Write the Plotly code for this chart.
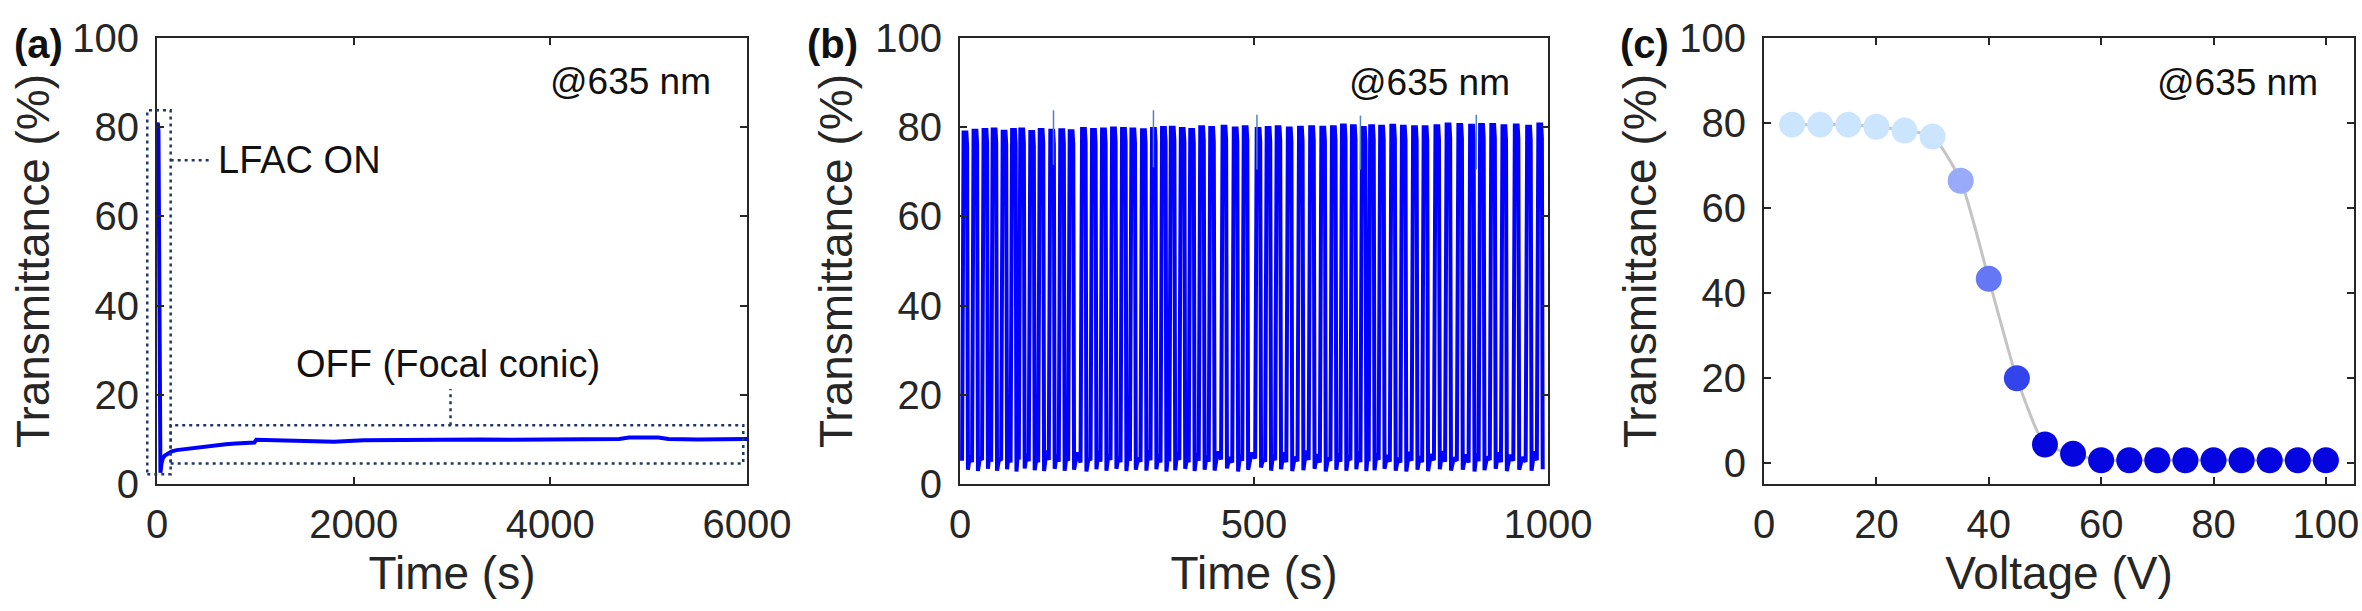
import plotly.graph_objects as go

# ---------------- data ----------------
# (a) long-term transmittance after LFAC switching
a_time = [0, 8, 15, 22, 28, 35, 45, 60, 80, 110, 150, 200, 300, 400, 500, 600, 700,
          800, 900, 990, 1010, 1200, 1500, 1760, 1800, 2100, 2400, 2700, 3000, 3300,
          3600, 3900, 4200, 4500, 4700, 4800, 4900, 5000, 5100, 5200, 5500, 5800, 6000]
a_trans = [80.5, 81.0, 79.0, 40.0, 8.0, 2.5, 4.5, 5.8, 6.4, 6.9, 7.3, 7.6, 7.9, 8.2, 8.5,
           8.7, 8.9, 9.1, 9.2, 9.3, 9.9, 9.8, 9.7, 9.7, 9.5, 9.8, 9.9, 9.9, 10.0, 10.0,
           9.9, 9.9, 10.0, 10.0, 10.1, 10.4, 10.5, 10.4, 10.4, 10.1, 10.0, 10.1, 10.1]

# (b) repeated switching: pulse centre times (s), ON level, OFF trough, OFF hump
b_pulse_t = [8.5, 25.5, 42.5, 58, 75, 91, 105, 122, 138, 156, 173, 189, 210, 227, 244,
             261, 278, 294, 312, 329, 346, 361, 378, 394, 411, 428, 449, 468, 485, 507,
             524, 541, 560, 579, 598, 617, 635, 652, 669, 686, 700, 717, 736, 754, 773,
             791, 811, 830, 850, 870, 887, 906, 925, 946, 967, 986]
b_high = [78.8, 79.2, 79.4, 79.5, 79.0, 79.4, 79.5, 78.9, 79.4, 79.2, 79.3, 79.1, 79.6,
          79.4, 79.5, 79.7, 79.6, 79.5, 79.3, 79.6, 79.8, 79.9, 79.6, 79.4, 80.0, 79.8,
          80.1, 79.7, 80.0, 79.6, 79.8, 80.0, 79.7, 79.9, 80.0, 79.9, 80.0, 80.4, 80.2,
          79.8, 80.2, 80.1, 80.3, 80.1, 80.0, 80.0, 80.2, 80.6, 80.5, 80.3, 80.5, 80.5,
          80.2, 80.4, 80.1, 80.6]
b_low = [3.2, 2.9, 3.4, 3.0, 3.3, 2.8, 3.5, 3.1, 2.9, 3.4, 3.0, 3.2, 2.8, 3.3, 3.0,
         3.4, 2.9, 3.2, 3.0, 3.3, 2.8, 3.1, 3.4, 2.9, 3.2, 3.0, 3.5, 2.8, 3.2, 3.7,
         3.0, 3.3, 2.9, 3.1, 3.4, 2.8, 3.2, 3.0, 3.3, 2.9, 3.1, 3.4, 3.0, 2.8, 3.2,
         2.9, 3.3, 3.0, 3.2, 2.8, 3.1, 3.4, 2.9, 3.2, 3.0, 3.3]
b_hump = [6.5, 6.0, 7.0, 5.6, 7.3, 6.2, 6.8, 5.8, 7.5, 6.6, 6.0, 7.1, 5.7, 7.4, 6.5,
          6.1, 6.9, 5.9, 7.6, 6.7, 6.2, 7.2, 5.8, 6.8, 6.3, 7.3, 6.0, 6.6, 7.0, 5.7,
          6.5, 7.1, 6.1, 7.5, 6.7, 5.9, 6.9, 6.4, 7.3, 6.0, 6.8, 6.5, 5.8, 7.2, 6.2,
          6.7, 7.4, 5.9, 6.6, 6.9, 6.1, 7.1, 6.5, 6.0, 7.3, 6.5]
b_spike_t = [159, 329, 505, 681, 878]
b_spike_top = [83.8, 83.8, 82.8, 82.6, 82.8]
b_spike_bottom = [71.5, 71.0, 70.5, 70.5, 70.5]

# (c) voltage dependence
c_volt = [5, 10, 15, 20, 25, 30, 35, 40, 45, 50, 55, 60, 65, 70, 75, 80, 85, 90, 95, 100]
c_trans = [79.6, 79.6, 79.6, 79.1, 78.2, 76.8, 66.4, 43.3, 19.9, 4.3, 2.1, 0.6, 0.6,
           0.6, 0.6, 0.6, 0.6, 0.6, 0.6, 0.6]
c_colors = ['#CCE5FF'] * 6 + ['#99AAFA', '#6677F6', '#3344EC'] + ['#0505E0'] * 11

# tick labels
a_xticks = [0, 2000, 4000, 6000]
b_xticks = [0, 500, 1000]
c_xticks = [0, 20, 40, 60, 80, 100]
y_ticks = [0, 20, 40, 60, 80, 100]

# ---------------- layout constants ----------------
W, H = 2362, 611
FONT = "Liberation Sans, Arial, sans-serif"
TXT = "#262626"
AX = "#262626"
BLUE = "#0000FF"
DOT = "#1F3864"
TICK_SIZE = 40
TITLE_SIZE = 46
ANN_SIZE = 38

dom_a = [157 / W, 747 / W]
dom_b = [960 / W, 1548 / W]
dom_c = [1764 / W, 2354 / W]
dom_y = [1 - 484 / H, 1 - 38 / H]

a_xr = [0, 6000]
a_yr = [0, 100]

# ---------------- build (b) waveform from read levels ----------------
b_x, b_y = [], []
for i, c in enumerate(b_pulse_t):
    b_x += [c - 5.0, c - 3.6, c - 2.4, c + 2.4, c + 3.6, c + 5.0]
    b_y += [b_low[i] + 2.0, b_high[i] - 3, b_high[i], b_high[i], b_high[i] - 3, b_low[i]]
    if i + 1 < len(b_pulse_t):
        nxt = b_pulse_t[i + 1]
        b_x += [(c + nxt) / 2]
        b_y += [b_hump[i]]

spk_x, spk_y = [], []
for t, top, bot in zip(b_spike_t, b_spike_top, b_spike_bottom):
    spk_x += [t, t, None]
    spk_y += [bot, top, None]

fig = go.Figure()

fig.add_trace(go.Scatter(x=a_time, y=a_trans, mode="lines",
                         line=dict(color=BLUE, width=4), xaxis="x", yaxis="y",
                         showlegend=False))
fig.add_trace(go.Scatter(x=b_x, y=b_y, mode="lines",
                         line=dict(color=BLUE, width=4), xaxis="x2", yaxis="y2",
                         showlegend=False))
fig.add_trace(go.Scatter(x=spk_x, y=spk_y, mode="lines",
                         line=dict(color="#4F81C9", width=1.5), xaxis="x2", yaxis="y2",
                         showlegend=False))
fig.add_trace(go.Scatter(x=c_volt, y=c_trans, mode="lines",
                         line=dict(color="#C4C4C4", width=3, shape="spline", smoothing=0.6),
                         xaxis="x3", yaxis="y3", showlegend=False))
fig.add_trace(go.Scatter(x=c_volt, y=c_trans, mode="markers",
                         marker=dict(color=c_colors, size=26, line=dict(width=0)),
                         xaxis="x3", yaxis="y3", showlegend=False))


def xaxis(dom, rng, ticks, title, anchor):
    return dict(domain=dom, range=rng, tickvals=ticks, ticks="inside", ticklen=7,
                tickwidth=1.5, tickcolor=AX, showline=True, linecolor=AX, linewidth=2,
                mirror="ticks", showgrid=False, zeroline=False, anchor=anchor,
                tickfont=dict(family=FONT, size=TICK_SIZE, color=TXT),
                title=dict(text=title, font=dict(family=FONT, size=TITLE_SIZE, color=TXT),
                           standoff=12),
                automargin=False, ticklabelstandoff=4, ticklabeloverflow="allow")


def yaxis(rng, title, anchor):
    return dict(domain=dom_y, range=rng, tickvals=y_ticks, ticks="inside", ticklen=7,
                tickwidth=1.5, tickcolor=AX, showline=True, linecolor=AX, linewidth=2,
                mirror="ticks", showgrid=False, zeroline=False, anchor=anchor,
                tickfont=dict(family=FONT, size=TICK_SIZE, color=TXT),
                title=dict(text=title, font=dict(family=FONT, size=TITLE_SIZE, color=TXT),
                           standoff=8),
                automargin=False, ticklabelstandoff=8, ticklabeloverflow="allow")


def a_px(t):
    return dom_a[0] + (t - a_xr[0]) / (a_xr[1] - a_xr[0]) * (dom_a[1] - dom_a[0])


def a_py(v):
    return dom_y[0] + (v - a_yr[0]) / (a_yr[1] - a_yr[0]) * (dom_y[1] - dom_y[0])


dot_line = dict(color=DOT, width=2.5, dash="3px,4px")
shapes = [
    dict(type="rect", xref="paper", yref="paper", x0=a_px(-99), x1=a_px(139),
         y0=a_py(2.2), y1=a_py(83.8), line=dot_line),
    dict(type="rect", xref="paper", yref="paper", x0=a_px(139), x1=a_px(5962),
         y0=a_py(4.6), y1=a_py(13.2), line=dot_line),
    dict(type="line", xref="paper", yref="paper", x0=a_px(139), x1=a_px(530),
         y0=a_py(72.6), y1=a_py(72.6), line=dot_line),
    dict(type="line", xref="paper", yref="paper", x0=a_px(2985), x1=a_px(2985),
         y0=a_py(13.2), y1=a_py(21.3), line=dot_line),
]

ann_font = dict(family=FONT, size=ANN_SIZE - 1, color="#111111")
lab_font = dict(family=FONT, size=TICK_SIZE, color="#111111")
annotations = [
    dict(text="@635 nm", x=4818, y=90.2, xref="x", yref="y", showarrow=False,
         font=ann_font, xanchor="center", yanchor="middle"),
    dict(text="@635 nm", x=799, y=90.1, xref="x2", yref="y2", showarrow=False,
         font=ann_font, xanchor="center", yanchor="middle"),
    dict(text="@635 nm", x=84.2, y=89.6, xref="x3", yref="y3", showarrow=False,
         font=ann_font, xanchor="center", yanchor="middle"),
    dict(text="LFAC ON", x=604, y=72.6, xref="x", yref="y", showarrow=False,
         font=dict(family=FONT, size=ANN_SIZE, color="#111111"),
         xanchor="left", yanchor="middle"),
    dict(text="OFF (Focal conic)", x=2964, y=27.0, xref="x", yref="y", showarrow=False,
         font=dict(family=FONT, size=ANN_SIZE, color="#111111"),
         xanchor="center", yanchor="middle"),
    dict(text="<b>(a)</b>", x=12 / W, y=1 - 44 / H, xref="paper", yref="paper",
         showarrow=False, xanchor="left", yanchor="middle", font=lab_font),
    dict(text="<b>(b)</b>", x=805 / W, y=1 - 44 / H, xref="paper", yref="paper",
         showarrow=False, xanchor="left", yanchor="middle", font=lab_font),
    dict(text="<b>(c)</b>", x=1618 / W, y=1 - 44 / H, xref="paper", yref="paper",
         showarrow=False, xanchor="left", yanchor="middle", font=lab_font),
]

fig.update_layout(
    width=W, height=H,
    margin=dict(l=0, r=0, t=0, b=0),
    paper_bgcolor="white", plot_bgcolor="white",
    showlegend=False,
    xaxis=xaxis(dom_a, a_xr, a_xticks, "Time (s)", "y"),
    yaxis=yaxis(a_yr, "Transmittance (%)", "x"),
    xaxis2=xaxis(dom_b, [0, 1000], b_xticks, "Time (s)", "y2"),
    yaxis2=yaxis([0, 100], "Transmittance (%)", "x2"),
    xaxis3=xaxis(dom_c, [0, 105], c_xticks, "Voltage (V)", "y3"),
    yaxis3=yaxis([-5, 100], "Transmittance (%)", "x3"),
    shapes=shapes,
    annotations=annotations,
)

fig.write_html("out.html", config={"displayModeBar": False},
               post_script="document.body.style.margin='0';document.body.style.overflow='hidden';")
